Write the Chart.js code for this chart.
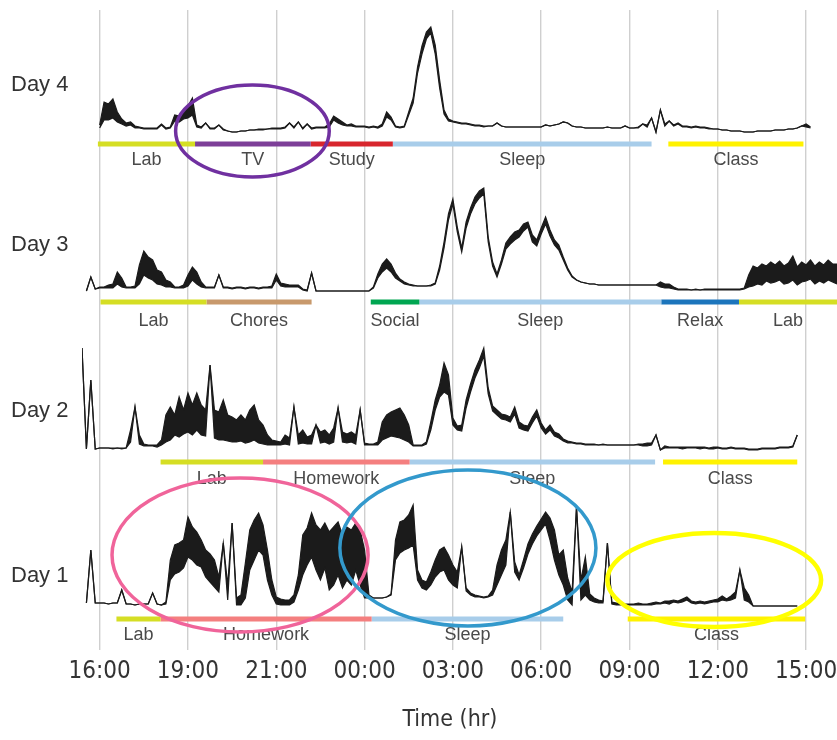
<!DOCTYPE html>
<html>
<head>
<meta charset="utf-8">
<script src="https://cdn.jsdelivr.net/npm/chart.js@4.4.1/dist/chart.umd.min.js"></script>
<style>
  html, body { margin: 0; background: #fff; }
  #wrap { width: 837px; height: 740px; position: relative; }
</style>
</head>
<body>
<div id="wrap"><canvas id="chart"></canvas></div>
<script>
// x axis: one unit per grid line, labels as printed on the figure
const tickLabels = ["16:00", "19:00", "21:00", "00:00", "03:00", "06:00", "09:00", "12:00", "15:00"];
const axisTitle = "Time (hr)";

// signal sampled every 0.05 grid units starting at -0.2
// each day: upper and lower edge of the trace (equal where the trace is a thin line)
const sampleStart = -0.2;
const sampleStep = 0.05;

const day4High = [
  null, null, null, null,
  0.5, 2.8, 2.6, 3.1, 1.8, 1.1, 0.7, 0.8, 0.4, 0.3, 0.2, 0.2, 0.2, 0.2, 0.6, 0.2, 0.3, 1.5, 1.4, 2.0,
  2.4, 3.2, 0.5, 0.3, 0.7, 0.2, 0.2, 0.5, 0.1, -0.1, -0.2, -0.2, -0.1, -0.1, 0.0, 0.0, 0.1, 0.1, 0.1, 0.2,
  0.2, 0.2, 0.3, 0.7, 0.3, 0.8, 0.2, 0.6, 0.2, 0.3, 0.3, 0.3, 0.6, 1.4, 1.1, 0.8, 0.5, 0.6, 0.4, 0.4,
  0.4, 0.3, 0.4, 0.3, 0.6, 1.8, 1.3, 0.4, 0.3, 0.4, 1.8, 3.2, 6.3, 8.4, 9.8, 10.3, 8.5, 5.0, 2.0, 1.1,
  0.9, 0.8, 0.7, 0.7, 0.6, 0.5, 0.5, 0.4, 0.4, 0.4, 0.7, 0.4, 0.3, 0.3, 0.3, 0.3, 0.3, 0.3, 0.3, 0.3,
  0.3, 0.5, 0.4, 0.5, 0.6, 0.8, 0.7, 0.4, 0.3, 0.3, 0.2, 0.2, 0.2, 0.2, 0.2, 0.3, 0.2, 0.2, 0.2, 0.4,
  0.2, 0.2, 0.3, 0.6, 0.5, 1.2, -0.2, 2.0, 0.6, 0.9, 0.5, 0.7, 0.4, 0.4, 0.3, 0.4, 0.3, 0.3, 0.2, 0.1,
  0.1, 0.0, 0.0, -0.1, -0.1, -0.1, -0.2, -0.2, -0.2, -0.1, -0.1, -0.1, -0.1, 0.0, 0.0, 0.0, 0.1, 0.1, 0.2, 0.4,
  0.6, 0.3, null, null, null, null, null, null
];
const day4Low = [
  null, null, null, null,
  0.2, 1.0, 1.0, 1.2, 0.8, 0.6, 0.4, 0.5, 0.2, 0.2, 0.1, 0.1, 0.1, 0.1, 0.5, 0.1, 0.2, 0.9, 0.8, 1.1,
  1.2, 1.5, 0.3, 0.2, 0.7, 0.1, 0.1, 0.5, 0.0, -0.1, -0.2, -0.2, -0.1, -0.1, 0.0, 0.0, 0.0, 0.0, 0.1, 0.1,
  0.1, 0.1, 0.2, 0.7, 0.2, 0.8, 0.1, 0.6, 0.1, 0.2, 0.2, 0.2, 0.3, 1.0, 0.7, 0.5, 0.4, 0.4, 0.3, 0.3,
  0.3, 0.2, 0.3, 0.2, 0.4, 1.3, 1.0, 0.3, 0.2, 0.3, 1.5, 2.7, 5.7, 7.6, 9.1, 9.7, 7.6, 4.2, 1.6, 0.9,
  0.8, 0.7, 0.6, 0.6, 0.5, 0.4, 0.4, 0.3, 0.4, 0.4, 0.7, 0.4, 0.3, 0.3, 0.3, 0.3, 0.3, 0.3, 0.3, 0.3,
  0.3, 0.5, 0.4, 0.5, 0.6, 0.8, 0.7, 0.4, 0.3, 0.3, 0.2, 0.2, 0.2, 0.2, 0.2, 0.3, 0.2, 0.2, 0.2, 0.4,
  0.2, 0.2, 0.2, 0.6, 0.3, 1.2, -0.2, 2.0, 0.4, 0.9, 0.4, 0.6, 0.3, 0.3, 0.2, 0.3, 0.2, 0.2, 0.1, 0.1,
  0.1, 0.0, 0.0, -0.1, -0.1, -0.1, -0.2, -0.2, -0.2, -0.1, -0.1, -0.1, -0.1, 0.0, 0.0, 0.0, 0.1, 0.1, 0.2, 0.4,
  0.3, 0.2, null, null, null, null, null, null
];

const day3High = [
  null, -0.1, 1.3, 0.1,
  0.3, 0.3, 0.5, 0.6, 1.8, 1.2, 0.3, 0.3, 0.4, 2.5, 3.9, 3.3, 3.0, 2.0, 1.8, 1.0, 0.8, 0.3, 0.3, 0.5,
  1.5, 2.3, 1.8, 0.8, 0.3, 0.3, 0.3, 1.5, 0.3, 0.3, 0.2, 0.3, 0.3, 0.2, 0.3, 0.3, 0.2, 0.3, 0.3, 0.4,
  1.6, 0.7, 0.6, 0.5, 0.5, 0.5, 0.1, 0.0, 1.7, -0.1, -0.1, -0.1, -0.1, -0.1, -0.1, -0.1, -0.1, -0.1, -0.1, -0.1,
  -0.1, -0.1, 0.3, 1.6, 2.6, 3.1, 2.6, 1.7, 1.1, 0.8, 0.6, 0.5, 0.4, 0.4, 0.4, 0.5, 0.7, 2.4, 4.8, 7.6,
  9.1, 6.3, 4.2, 6.8, 8.2, 9.3, 9.9, 10.2, 5.3, 2.8, 1.6, 3.0, 4.7, 5.3, 5.8, 6.0, 6.6, 6.8, 5.5, 5.0,
  6.2, 7.3, 6.0, 5.0, 4.5, 3.3, 2.2, 1.4, 1.0, 0.8, 0.7, 0.6, 0.6, 0.5, 0.5, 0.5, 0.5, 0.5, 0.5, 0.5,
  0.5, 0.5, 0.5, 0.5, 0.5, 0.5, 0.5, 0.8, 0.6, 0.6, 0.3, 0.1, 0.1, 0.1, 0.0, 0.1, 0.0, 0.1, 0.1, 0.1,
  0.1, 0.1, 0.1, 0.1, 0.1, 0.1, 0.2, 1.5, 2.4, 2.2, 2.6, 2.4, 2.8, 2.5, 2.9, 2.4, 2.7, 3.4, 2.3, 2.8,
  2.5, 3.0, 2.4, 2.8, 2.5, 3.0, 2.6, 2.6
];
const day3Low = [
  null, -0.1, 1.3, 0.1,
  0.2, 0.2, 0.2, 0.2, 0.6, 0.3, 0.2, 0.2, 0.2, 0.6, 1.5, 1.2, 1.0, 0.6, 0.5, 0.3, 0.3, 0.2, 0.2, 0.2,
  0.4, 1.0, 0.6, 0.3, 0.2, 0.2, 0.2, 1.5, 0.2, 0.2, 0.1, 0.2, 0.2, 0.1, 0.2, 0.2, 0.1, 0.2, 0.2, 0.2,
  1.0, 0.4, 0.3, 0.3, 0.3, 0.3, 0.0, -0.1, 1.7, -0.1, -0.1, -0.1, -0.1, -0.1, -0.1, -0.1, -0.1, -0.1, -0.1, -0.1,
  -0.1, -0.1, 0.2, 1.2, 1.8, 2.2, 1.8, 1.2, 0.9, 0.6, 0.5, 0.4, 0.4, 0.4, 0.4, 0.4, 0.6, 2.0, 4.2, 7.0,
  8.6, 5.8, 3.8, 6.2, 7.6, 8.6, 9.2, 9.6, 4.8, 2.4, 1.3, 2.6, 4.1, 4.6, 5.0, 5.3, 5.9, 6.3, 4.8, 4.4,
  5.6, 6.6, 5.4, 4.5, 4.0, 3.0, 2.0, 1.3, 1.0, 0.8, 0.7, 0.6, 0.6, 0.5, 0.5, 0.5, 0.5, 0.5, 0.5, 0.5,
  0.5, 0.5, 0.5, 0.5, 0.5, 0.5, 0.5, 0.3, 0.2, 0.2, 0.1, 0.0, 0.0, 0.0, 0.0, 0.0, 0.0, 0.0, 0.0, 0.0,
  0.0, 0.0, 0.0, 0.0, 0.0, 0.0, 0.1, 0.3, 0.4, 0.6, 0.5, 0.9, 0.7, 0.8, 1.0, 0.6, 0.7, 1.0, 0.5, 0.8,
  0.9, 1.1, 0.6, 0.9, 0.7, 1.0, 0.8, 0.6
];

const day2High = [
  10.2, 0.1, 7.0, 0.1,
  0.2, 0.2, 0.2, 0.2, 0.2, 0.2, 0.2, 2.0, 4.3, 1.5, 0.6, 0.5, 0.5, 0.5, 1.0, 3.5, 4.3, 3.5, 5.3, 4.0,
  5.7, 4.5, 5.7, 4.5, 4.0, 8.5, 4.0, 3.8, 5.0, 3.5, 3.3, 3.0, 3.5, 3.0, 4.0, 4.5, 3.0, 2.5, 1.5, 1.0,
  0.9, 0.8, 1.5, 1.2, 4.3, 1.5, 2.0, 1.3, 1.5, 2.5, 1.8, 2.0, 1.5, 2.2, 4.2, 1.8, 1.6, 1.8, 1.5, 4.0,
  0.7, 0.6, 0.6, 0.8, 2.8, 3.5, 3.8, 4.0, 4.2, 3.5, 2.5, 0.5, 0.5, 0.5, 0.8, 2.8, 5.0, 6.5, 8.7, 7.5,
  3.2, 2.4, 2.5, 5.0, 6.6, 8.0, 9.0, 10.2, 6.2, 4.4, 4.0, 3.6, 3.5, 3.3, 4.3, 2.8, 2.5, 2.4, 3.3, 4.0,
  2.7, 2.0, 2.5, 1.8, 1.6, 1.1, 0.9, 0.8, 0.7, 0.7, 0.6, 0.6, 0.6, 0.5, 0.6, 0.5, 0.5, 0.5, 0.5, 0.5,
  0.5, 0.5, 0.6, 0.6, 0.7, 0.7, 1.5, 0.0, 0.4, 0.3, 0.3, 0.3, 0.3, 0.3, 0.3, 0.3, 0.3, 0.3, 0.2, 0.3,
  0.3, 0.2, 0.2, 0.3, 0.2, 0.2, 0.2, 0.1, 0.1, 0.1, 0.2, 0.2, 0.2, 0.2, 0.3, 0.3, 0.3, 0.4, 1.5, null,
  null, null, null, null, null, null, null, null
];
const day2Low = [
  10.2, 0.1, 7.0, 0.1,
  0.2, 0.2, 0.2, 0.1, 0.2, 0.1, 0.2, 0.8, 4.3, 0.6, 0.4, 0.4, 0.4, 0.3, 0.5, 0.8, 1.0, 1.5, 1.3, 1.6,
  1.8, 1.5, 2.0, 1.5, 1.4, 8.5, 1.2, 1.0, 1.0, 0.9, 0.8, 0.8, 0.9, 0.7, 0.8, 1.0, 0.7, 0.6, 0.5, 0.5,
  0.5, 0.5, 0.6, 0.5, 4.3, 0.6, 0.7, 0.6, 0.6, 2.5, 0.7, 0.8, 0.6, 0.8, 4.2, 0.8, 0.7, 0.8, 0.6, 4.0,
  0.5, 0.5, 0.5, 0.5, 1.0, 1.2, 1.4, 1.3, 1.2, 1.0, 0.8, 0.4, 0.4, 0.4, 0.6, 2.0, 4.0, 5.3, 5.8, 5.5,
  2.5, 2.0, 1.9, 4.2, 5.8, 7.2, 8.2, 9.4, 5.6, 3.9, 3.5, 3.1, 3.0, 2.8, 3.6, 2.2, 2.0, 1.9, 2.7, 3.4,
  2.2, 1.6, 2.0, 1.4, 1.2, 0.9, 0.7, 0.7, 0.6, 0.6, 0.5, 0.5, 0.5, 0.5, 0.5, 0.5, 0.5, 0.5, 0.5, 0.5,
  0.5, 0.5, 0.5, 0.4, 0.4, 0.5, 1.5, 0.0, 0.2, 0.2, 0.2, 0.2, 0.1, 0.2, 0.2, 0.2, 0.1, 0.2, 0.1, 0.1,
  0.2, 0.1, 0.1, 0.2, 0.1, 0.1, 0.1, 0.0, 0.0, 0.0, 0.1, 0.1, 0.1, 0.1, 0.2, 0.2, 0.2, 0.3, 1.5, null,
  null, null, null, null, null, null, null, null
];

const day1High = [
  null, 0.7, 6.0, 0.7,
  0.7, 0.7, 0.6, 0.7, 0.7, 2.0, 0.6, 0.6, 0.5, 0.6, 0.6, 0.6, 1.7, 0.6, 0.5, 0.8, 5.0, 6.5, 6.7, 7.0,
  9.3, 8.3, 7.8, 7.0, 6.0, 5.6, 5.0, 3.3, 6.7, 2.5, 8.7, 1.2, 1.5, 4.7, 8.0, 9.0, 9.7, 8.5, 6.0, 3.0,
  1.3, 1.1, 1.0, 1.0, 1.5, 3.5, 7.5, 8.2, 9.7, 8.5, 8.0, 8.7, 7.8, 8.3, 8.8, 7.5, 8.3, 8.0, 8.7, 8.0,
  6.0, 1.5, 1.2, 1.2, 1.2, 1.3, 1.6, 7.0, 8.8, 9.0, 9.5, 10.5, 4.0, 3.0, 2.8, 3.8, 5.0, 6.0, 6.3, 5.5,
  4.5, 3.8, 6.3, 2.2, 1.7, 1.5, 1.4, 1.3, 1.4, 2.0, 4.5, 6.0, 7.0, 9.8, 4.8, 3.5, 5.0, 6.6, 7.6, 8.4,
  9.1, 9.8, 9.2, 8.0, 5.5, 6.0, 3.2, 1.8, 10.3, 3.0, 5.3, 1.6, 1.2, 1.0, 0.9, 6.7, 0.8, 0.7, 0.7, 0.6,
  0.6, 0.6, 0.7, 0.6, 0.6, 0.7, 0.8, 0.7, 0.9, 0.9, 1.0, 0.9, 1.1, 1.3, 0.9, 0.8, 0.9, 0.8, 0.9, 1.0,
  1.1, 1.4, 1.1, 1.4, 1.8, 4.0, 2.2, 1.5, 0.4, 0.4, 0.4, 0.4, 0.4, 0.4, 0.4, 0.4, 0.4, 0.4, 0.4, null,
  null, null, null, null, null, null, null, null
];
const day1Low = [
  null, 0.7, 6.0, 0.7,
  0.7, 0.7, 0.6, 0.7, 0.7, 2.0, 0.6, 0.6, 0.5, 0.6, 0.6, 0.6, 1.7, 0.6, 0.5, 0.6, 3.0, 3.6, 3.8, 4.2,
  5.3, 5.0, 4.5, 4.3, 3.3, 2.8, 2.3, 1.8, 6.7, 1.0, 8.7, 0.5, 0.5, 1.2, 4.0, 5.0, 6.0, 5.5, 3.0, 1.5,
  0.6, 0.5, 0.5, 0.5, 0.8, 2.0, 3.5, 4.5, 5.3, 4.0, 3.0, 4.2, 2.0, 2.5, 3.5, 2.2, 3.0, 2.5, 4.0, 2.5,
  1.2, 1.2, 1.2, 1.2, 1.2, 1.3, 1.5, 5.0, 5.7, 6.0, 6.2, 6.5, 3.0, 2.2, 2.0, 2.5, 3.3, 3.8, 4.0, 3.0,
  2.5, 2.2, 6.3, 1.9, 1.5, 1.3, 1.3, 1.2, 1.3, 1.5, 2.5, 3.5, 4.5, 9.8, 3.8, 3.0, 4.2, 5.6, 6.6, 7.4,
  8.0, 8.6, 7.0, 5.0, 3.5, 2.5, 1.0, 0.5, 10.3, 1.0, 1.5, 1.0, 0.8, 0.7, 0.7, 6.7, 0.6, 0.5, 0.5, 0.5,
  0.5, 0.5, 0.5, 0.5, 0.5, 0.5, 0.6, 0.6, 0.7, 0.6, 0.8, 0.7, 0.8, 1.0, 0.7, 0.6, 0.7, 0.6, 0.7, 0.8,
  0.8, 1.0, 0.9, 1.0, 1.2, 4.0, 1.0, 0.8, 0.4, 0.4, 0.4, 0.4, 0.4, 0.4, 0.4, 0.4, 0.4, 0.4, 0.4, null,
  null, null, null, null, null, null, null, null
];

// activities: name, start and end in grid units
const day4Activities = ["Lab", "TV", "Study", "Sleep", "Class"];
const day4Starts = [-0.02, 1.08, 2.39, 3.32, 6.44];
const day4Ends = [1.08, 2.39, 3.32, 6.25, 7.97];

const day3Activities = ["Lab", "Chores", "Social", "Sleep", "Relax", "Lab"];
const day3Starts = [0.01, 1.21, 3.07, 3.62, 6.36, 7.24];
const day3Ends = [1.21, 2.40, 3.62, 6.36, 7.24, 8.35];

const day2Activities = ["Lab", "Homework", "Sleep", "Class"];
const day2Starts = [0.69, 1.85, 3.51, 6.38];
const day2Ends = [1.85, 3.51, 6.29, 7.90];

const day1Activities = ["Lab", "Homework", "Sleep", "Class"];
const day1Starts = [0.19, 0.69, 3.08, 5.98];
const day1Ends = [0.69, 3.08, 5.25, 7.99];

// ---- styles / layout ----
const activityColors = {
  Lab: "#d5de24", TV: "#7d3f98", Study: "#d8262d", Sleep: "#a8cdea", Class: "#fff200",
  Chores: "#c8996c", Social: "#00a651", Relax: "#1c75bc", Homework: "#f47f7f"
};

const days = [
  { name: "Day 4", axis: "y4", high: day4High, low: day4Low, acts: day4Activities, starts: day4Starts, ends: day4Ends, bar: -1.4, text: -3.0, title: 4.5 },
  { name: "Day 3", axis: "y3", high: day3High, low: day3Low, acts: day3Activities, starts: day3Starts, ends: day3Ends, bar: -1.2, text: -3.1, title: 4.5 },
  { name: "Day 2", axis: "y2", high: day2High, low: day2Low, acts: day2Activities, starts: day2Starts, ends: day2Ends, bar: -1.2, text: -2.9, title: 3.9 },
  { name: "Day 1", axis: "y1", high: day1High, low: day1Low, acts: day1Activities, starts: day1Starts, ends: day1Ends, bar: -0.9, text: -2.5, title: 3.4 }
];

// highlight circles, in axis units of the day they sit on
const highlights = [
  { axis: "y4", cx: 1.73, cy: -0.1, rx: 0.87, ry: 4.6, color: "#7030a0", width: 3.5 },
  { axis: "y1", cx: 1.59, cy: 5.5, rx: 1.45, ry: 7.7, color: "#f0649a", width: 3.5 },
  { axis: "y1", cx: 4.17, cy: 6.2, rx: 1.45, ry: 7.8, color: "#3399cc", width: 3.5 },
  { axis: "y1", cx: 6.96, cy: 3.0, rx: 1.21, ry: 4.7, color: "#ffff00", width: 4.5 }
];

const condensed = "'Liberation Sans Narrow', 'DejaVu Sans Condensed', 'Arial Narrow', Roboto, sans-serif";
const traceColor = "#1b1b1b";

// ---- datasets ----
const toPoints = arr => arr.map((v, i) => ({ x: sampleStart + i * sampleStep, y: v }));
const datasets = [];
days.forEach(day => {
  datasets.push({
    data: toPoints(day.low),
    yAxisID: day.axis,
    borderColor: traceColor,
    borderWidth: 1.2,
    pointRadius: 0,
    tension: 0,
    fill: false
  });
  // upper edge, filled down to the lower edge (previous dataset)
  datasets.push({
    data: toPoints(day.high),
    yAxisID: day.axis,
    borderColor: traceColor,
    backgroundColor: traceColor,
    borderWidth: 1.2,
    pointRadius: 0,
    tension: 0,
    fill: "-1"
  });
  day.acts.forEach((act, k) => {
    datasets.push({
      data: [{ x: day.starts[k], y: day.bar }, { x: day.ends[k], y: day.bar }],
      yAxisID: day.axis,
      borderColor: activityColors[act],
      borderWidth: 5,
      borderCapStyle: "butt",
      pointRadius: 0,
      fill: false
    });
  });
});

// ---- text + circles ----
const overlayPlugin = {
  id: "overlay",
  afterDatasetsDraw(chart) {
    const ctx = chart.ctx;
    const xs = chart.scales.x;
    const area = chart.chartArea;
    ctx.save();
    days.forEach(day => {
      const ys = chart.scales[day.axis];
      ctx.fillStyle = "#4a4a4a";
      ctx.font = "18px 'Liberation Sans', Arial, sans-serif";
      ctx.textAlign = "center";
      ctx.textBaseline = "middle";
      day.acts.forEach((act, k) => {
        const mid = (day.starts[k] + day.ends[k]) / 2;
        ctx.fillText(act, xs.getPixelForValue(mid), ys.getPixelForValue(day.text));
      });
      ctx.fillStyle = "#333";
      ctx.font = "22px 'Liberation Sans', Arial, sans-serif";
      ctx.textAlign = "left";
      ctx.fillText(day.name, 11, ys.getPixelForValue(day.title));
    });
    // time labels under the grid lines, and the axis title
    ctx.fillStyle = "#333";
    ctx.textAlign = "center";
    ctx.font = "24px " + condensed;
    tickLabels.forEach((lab, i) => {
      ctx.fillText(lab, xs.getPixelForValue(i), area.bottom + 22);
    });
    ctx.font = "23px " + condensed;
    ctx.fillText(axisTitle, xs.getPixelForValue(4) - 3, area.bottom + 70);
    highlights.forEach(h => {
      const ys = chart.scales[h.axis];
      const cx = xs.getPixelForValue(h.cx);
      const cy = ys.getPixelForValue(h.cy);
      const rx = Math.abs(xs.getPixelForValue(h.cx + h.rx) - cx);
      const ry = Math.abs(ys.getPixelForValue(h.cy + h.ry) - cy);
      ctx.beginPath();
      ctx.ellipse(cx, cy, rx, ry, 0, 0, Math.PI * 2);
      ctx.strokeStyle = h.color;
      ctx.lineWidth = h.width;
      ctx.stroke();
    });
    ctx.restore();
  }
};

const yScale = w => ({
  type: "linear", position: "left", stack: "days", stackWeight: 1, weight: w,
  min: -4, max: 12, display: false
});

new Chart(document.getElementById("chart"), {
  type: "line",
  data: { datasets },
  options: {
    responsive: true,
    maintainAspectRatio: false,
    animation: false,
    layout: { padding: { left: 82, right: 0, top: 10, bottom: 90 } },
    plugins: { legend: { display: false }, tooltip: { enabled: false } },
    scales: {
      x: {
        type: "linear",
        min: -0.2,
        max: 8.35,
        afterBuildTicks: s => { s.ticks = tickLabels.map((_, i) => ({ value: i })); },
        ticks: { display: false },
        grid: { color: "#cfcfcf", lineWidth: 1.4, drawTicks: false },
        border: { display: false },
        title: { display: false }
      },
      y4: yScale(4),
      y3: yScale(3),
      y2: yScale(2),
      y1: yScale(1)
    }
  },
  plugins: [overlayPlugin]
});
</script>
</body>
</html>
